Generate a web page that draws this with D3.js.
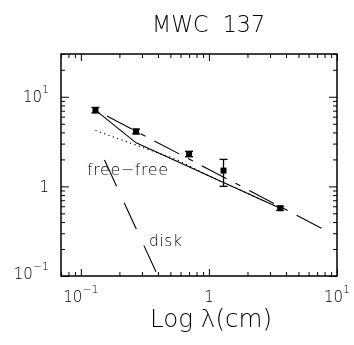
<!DOCTYPE html>
<html>
<head>
<meta charset="utf-8">
<script src="https://cdn.jsdelivr.net/npm/d3@7"></script>
<style>
  body { margin: 0; background: #fff; }
  svg { will-change: transform; }
  text { font-family: "DejaVu Sans", "Liberation Sans", sans-serif; font-weight: 200; fill: #000; }
</style>
</head>
<body>
<div id="container"></div>
<script>
// observed fluxes (mJy) vs wavelength (cm)
const wavelength = [0.13, 0.27, 0.70, 1.3, 3.6]
const flux = [7.1, 4.1, 2.3, 1.5, 0.57]
const fluxErr = [0.5, 0.25, 0.16, 0.5, 0.03]

// model curves
const totalLam = [0.13, 0.27, 3.6]
const totalFlux = [7.1, 3.06, 0.57]
const freeLam = [0.13, 0.56, 1.0, 3.6]
const freeFlux = [4.2, 1.99, 1.31, 0.57]
const diskLam = [0.153, 0.40]
const diskFlux = [1.97, 0.1]
const fitLam = [0.13, 7.6]
const fitFlux = [7.1, 0.34]

// ticks
const xMajor = [0.1, 1, 10]
const xMinor = [0.07, 0.08, 0.09, 0.2, 0.3, 0.4, 0.5, 0.6, 0.7, 0.8, 0.9, 2, 3, 4, 5, 6, 7, 8, 9]
const yMajor = [0.1, 1, 10]
const yMinor = [0.2, 0.3, 0.4, 0.5, 0.6, 0.7, 0.8, 0.9, 2, 3, 4, 5, 6, 7, 8, 9, 20, 30]
const majorLabels = [['10', '\u22121'], ['1', ''], ['10', '1']]

const width = 354
const height = 345
const margin = { top: 54, right: 17, bottom: 69, left: 61 }
const plotWidth = width - margin.left - margin.right
const plotHeight = height - margin.top - margin.bottom

const svg = d3.select('#container').append('svg')
  .attr('width', width)
  .attr('height', height)

const plot = svg.append('g')
  .attr('transform', `translate(${margin.left}, ${margin.top})`)

const x = d3.scaleLog().domain([0.07, 10]).range([0, plotWidth])
const y = d3.scaleLog().domain([0.1, 30]).range([plotHeight, 0])

// frame
plot.append('rect')
  .attr('width', plotWidth)
  .attr('height', plotHeight)
  .style('fill', 'none')
  .style('stroke', '#000')
  .style('stroke-width', 1.5)

// inward ticks on all four sides
function ticks(axis, values, size, transform) {
  const g = plot.append('g')
    .attr('transform', transform)
    .call(axis.tickValues(values).tickSize(-size).tickSizeOuter(0).tickFormat(''))
  g.select('.domain').remove()
  g.selectAll('line').style('stroke', '#000')
}
ticks(d3.axisBottom(x), xMajor, 7, `translate(0, ${plotHeight})`)
ticks(d3.axisBottom(x), xMinor, 4, `translate(0, ${plotHeight})`)
ticks(d3.axisTop(x), xMajor, 7, 'translate(0, 0)')
ticks(d3.axisTop(x), xMinor, 4, 'translate(0, 0)')
ticks(d3.axisLeft(y), yMajor, 8, 'translate(0, 0)')
ticks(d3.axisLeft(y), yMinor, 4, 'translate(0, 0)')
ticks(d3.axisRight(y), yMajor, 8, `translate(${plotWidth}, 0)`)
ticks(d3.axisRight(y), yMinor, 4, `translate(${plotWidth}, 0)`)

// tick labels with superscripts
function label(sel, parts) {
  sel.append('tspan').text(parts[0])
  if (parts[1]) {
    sel.append('tspan')
      .attr('dy', -9)
      .style('font-size', '11px')
      .text(parts[1])
  }
}
xMajor.forEach((v, i) => {
  const t = plot.append('text')
    .attr('x', x(v))
    .attr('y', plotHeight + 25.5)
    .attr('text-anchor', 'middle')
    .style('font-size', '15px')
  label(t, majorLabels[i])
})
yMajor.forEach((v, i) => {
  const t = plot.append('text')
    .attr('x', -12)
    .attr('y', y(v) + (i === 0 ? 2.5 : 5.5))
    .attr('text-anchor', 'end')
    .style('font-size', '15px')
  label(t, majorLabels[i])
})

// titles
svg.append('text')
  .attr('x', 152)
  .attr('y', 32)
  .attr('textLength', 113)
  .attr('lengthAdjust', 'spacingAndGlyphs')
  .style('font-size', '23px')
  .style('white-space', 'pre')
  .text('MWC  137')
svg.append('text')
  .attr('x', 150)
  .attr('y', 327)
  .attr('textLength', 122)
  .attr('lengthAdjust', 'spacingAndGlyphs')
  .style('font-size', '25px')
  .text('Log \u03bb(cm)')

// model lines
const line = d3.line()
  .x(d => x(d[0]))
  .y(d => y(d[1]))
plot.append('clipPath').attr('id', 'clip')
  .append('rect').attr('width', plotWidth).attr('height', plotHeight)
const curves = plot.append('g').attr('clip-path', 'url(#clip)')
const models = [
  { lam: totalLam, f: totalFlux, dash: null, offset: 0 },
  { lam: freeLam, f: freeFlux, dash: '1.2,3.4', offset: 0 },
  { lam: diskLam, f: diskFlux, dash: '29,18', offset: 0 },
  { lam: fitLam, f: fitFlux, dash: '28,10,5.5,10', offset: 40.5 }
]
curves.selectAll('path')
  .data(models)
  .enter().append('path')
    .attr('d', d => line(d3.zip(d.lam, d.f)))
    .attr('stroke-width', 1.1)
    .attr('stroke-dasharray', d => d.dash)
    .attr('stroke-dashoffset', d => d.offset)
    .style('fill', 'none')
    .style('stroke', '#000')

// line labels
plot.append('text')
  .attr('x', 87 - margin.left)
  .attr('y', 175 - margin.top)
  .attr('textLength', 81)
  .style('font-size', '16px')
  .text('free\u2212free')
plot.append('text')
  .attr('x', 149 - margin.left)
  .attr('y', 245.5 - margin.top)
  .attr('textLength', 33)
  .style('font-size', '15.5px')
  .text('disk')

// data points with error bars
const points = plot.selectAll('.pt')
  .data(d3.zip(wavelength, flux, fluxErr))
  .enter().append('g')
    .attr('class', 'pt')
    .attr('transform', d => `translate(${x(d[0])}, 0)`)
points.append('line')
  .attr('y1', d => y(d[1] - d[2]))
  .attr('y2', d => y(d[1] + d[2]))
  .style('stroke', '#000')
  .style('stroke-width', 1.3)
points.selectAll('.cap')
  .data(d => [d[1] - d[2], d[1] + d[2]])
  .enter().append('line')
    .attr('class', 'cap')
    .attr('x1', -4)
    .attr('x2', 4)
    .attr('y1', d => y(d))
    .attr('y2', d => y(d))
    .style('stroke', '#000')
    .style('stroke-width', 1.3)
points.append('rect')
  .attr('x', -3)
  .attr('y', d => y(d[1]) - 3)
  .attr('width', 6)
  .attr('height', 6)
  .style('fill', '#000')
</script>
</body>
</html>
